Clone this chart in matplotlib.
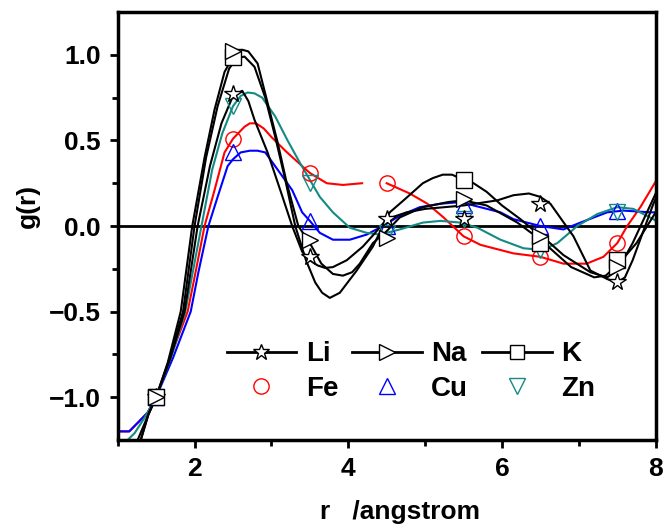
import numpy as np
import matplotlib
matplotlib.use("Agg")
import matplotlib.pyplot as plt
from matplotlib.lines import Line2D

# marker positions (r in angstrom), same for every series
r_mark = [1.5, 2.5, 3.5, 4.5, 5.5, 6.5, 7.5]

# ---- fitted curves (nan = gap in the line) ----
r_li = [1.3, 1.4, 1.5, 1.68, 1.87, 2.04, 2.2, 2.35, 2.5, 2.62, 2.7, 2.78, 2.95, 3.13,
        3.27, 3.4, 3.5, 3.6, 3.7, 3.8, 3.98, 4.19, 4.35, 4.5, 4.76, 5.0, 5.5, 5.94,
        6.15, 6.35, 6.5, 6.63, 6.93, 7.15, 7.37, 7.5, 7.6, 7.7, 7.97, 8.0]
g_li = [-1.25, -1.1, -1.0, -0.78, -0.5, 0.0, 0.35, 0.6, 0.76, 0.79, 0.73, 0.62, 0.43, 0.19,
        0.0, -0.15, -0.2, -0.23, -0.245, -0.24, -0.2, -0.12, -0.04, 0.04, 0.08, 0.1, 0.12, 0.15,
        0.18, 0.19, 0.17, 0.13, -0.06, -0.26, -0.31, -0.33, -0.3, -0.2, 0.13, 0.16]

r_na = [1.26, 1.4, 1.5, 1.65, 1.82, 1.97, 2.13, 2.26, 2.39, 2.5, 2.56, 2.62, 2.7, 2.82,
        2.95, 3.08, 3.2, 3.35, 3.5, 3.65, 3.8, 3.93, 4.05, 4.15, 4.32, 4.5, 4.67, 4.97,
        5.3, 5.5, 5.8, 6.2, 6.5, 6.9, 7.2, 7.35, 7.5, 7.75, 8.0]
g_na = [-1.25, -1.1, -1.0, -0.8, -0.5, 0.0, 0.4, 0.68, 0.9, 0.99, 1.02, 1.03, 1.02, 0.95,
        0.72, 0.49, 0.25, 0.0, -0.1, -0.22, -0.28, -0.29, -0.27, -0.22, -0.1, -0.03, 0.05, 0.11,
        0.14, 0.15, 0.12, 0.02, -0.08, -0.24, -0.3, -0.29, -0.23, -0.1, 0.08]

r_k = [1.3, 1.4, 1.5, 1.67, 1.85, 2.0, 2.15, 2.3, 2.45, 2.55, 2.65, 2.78, 2.92,
       3.05, 3.18, 3.31, 3.45, 3.57, 3.66, 3.76, 3.89, 4.11, 4.32, 4.54, 4.72, 4.97, 5.1,
       5.23, 5.35, 5.5, 5.63, 5.8, 6.0, 6.24, 6.4, 6.5, 6.8, 7.15, 7.37, 7.5, 7.7, 8.0]
g_k = [-1.25, -1.1, -1.0, -0.78, -0.5, 0.0, 0.4, 0.7, 0.92, 0.98, 0.99, 0.93, 0.75,
       0.52, 0.27, 0.0, -0.2, -0.33, -0.39, -0.42, -0.39, -0.26, -0.12, 0.08, 0.15, 0.25, 0.28,
       0.3, 0.3, 0.27, 0.25, 0.2, 0.12, 0.04, -0.02, -0.05, -0.17, -0.27, -0.3, -0.26, -0.1, 0.19]

r_fe = [1.0, 1.15, 1.26, 1.39, 1.5, 1.7, 1.91, 2.0, 2.13, 2.26, 2.39, 2.5, 2.65,
        2.72, 2.8, 2.9, 3.0, 3.18, 3.4, 3.5, 3.72, 3.93, 4.18, 4.3, 4.5, 4.8, 5.03, 5.24, 5.5,
        5.72, 6.15, 6.5, 6.8, 7.1, 7.32, 7.5, 7.63, 7.8, 8.0]
g_fe = [-1.2, -1.2, -1.15, -1.09, -1.0, -0.75, -0.5, -0.3, 0.0, 0.21, 0.43, 0.51, 0.58,
        0.6, 0.6, 0.57, 0.52, 0.44, 0.35, 0.31, 0.25, 0.24, 0.25, np.nan, 0.25, 0.19, 0.13, 0.05, -0.06,
        -0.11, -0.16, -0.18, -0.22, -0.22, -0.18, -0.1, 0.0, 0.11, 0.26]

r_cu = [1.0, 1.15, 1.26, 1.39, 1.5, 1.72, 1.95, 2.05, 2.18, 2.3, 2.43, 2.5, 2.6,
        2.72, 2.82, 2.92, 3.08, 3.27, 3.4, 3.5, 3.63, 3.8, 4.02, 4.24, 4.45, 4.67, 4.93,
        5.2, 5.46, 5.63, 5.98, 6.15, 6.5, 6.8, 7.02, 7.37, 7.58, 7.93, 8.0]
g_cu = [-1.2, -1.2, -1.15, -1.09, -1.0, -0.77, -0.5, -0.27, 0.0, 0.17, 0.35, 0.39, 0.43,
        0.44, 0.44, 0.43, 0.33, 0.21, 0.08, 0.03, -0.04, -0.08, -0.08, -0.05, 0.0, 0.06, 0.11,
        0.13, 0.14, 0.12, 0.08, 0.04, 0.0, -0.02, 0.02, 0.08, 0.09, 0.08, 0.08]

r_zn = [1.13, 1.22, 1.35, 1.5, 1.7, 1.88, 2.09, 2.23, 2.36, 2.5, 2.6, 2.69, 2.78, 2.88, 3.05,
        3.21, 3.37, 3.5, 3.63, 3.8, 4.02, 4.24, 4.41, 4.67, 4.97, 5.2, 5.46, 5.68,
        5.98, 6.28, 6.52, 6.72, 6.98, 7.24, 7.5, 7.71, 7.97, 8.0]
g_zn = [-1.25, -1.21, -1.12, -1.0, -0.76, -0.5, 0.0, 0.33, 0.54, 0.7, 0.76, 0.78, 0.775, 0.75, 0.64,
        0.5, 0.37, 0.27, 0.17, 0.08, -0.01, -0.04, -0.05, -0.02, 0.02, 0.03, 0.02, -0.01,
        -0.08, -0.13, -0.14, -0.1, 0.0, 0.07, 0.11, 0.1, 0.04, 0.03]

# ---- symbols (data points); nan = hidden behind other curves ----
m_li = [-1.0, 0.77, -0.18, 0.04, 0.04, 0.13, -0.33]
m_na = [-1.0, 1.02, -0.08, -0.07, 0.16, -0.06, -0.24]
m_k = [-1.0, 0.99, np.nan, np.nan, 0.27, -0.1, -0.2]
m_fe = [-1.0, 0.51, 0.31, 0.25, -0.06, -0.18, -0.1]
m_cu = [-1.0, 0.43, 0.03, 0.0, 0.12, 0.0, 0.09]
m_zn = [-1.0, 0.7, 0.25, -0.04, 0.04, -0.14, 0.08]

labels = ["Li", "Na", "K", "Fe", "Cu", "Zn"]

plt.rcParams["font.family"] = ["Liberation Sans", "DejaVu Sans"]
plt.rcParams["font.weight"] = "bold"

fig = plt.figure(figsize=(6.65, 5.25), dpi=100)
ax = fig.add_axes([0.177, 0.162, 0.809, 0.815])

series = [
    (r_fe, g_fe, m_fe, "red", "o", "none"),
    (r_cu, g_cu, m_cu, "blue", "^", "none"),
    (r_zn, g_zn, m_zn, "#138a84", "v", "none"),
    (r_li, g_li, m_li, "black", "*", "white"),
    (r_k, g_k, m_k, "black", "s", "white"),
    (r_na, g_na, m_na, "black", ">", "white"),
]

# lines first, symbols after
for r, g, m, c, mk, fc in series:
    ax.plot(r, g, color=c, lw=1.5, zorder=2)
for r, g, m, c, mk, fc in series:
    ms = 13 if mk == "*" else 11
    ax.plot(r_mark, m, ls="none", marker=mk, ms=ms, mfc=fc, mec=c, mew=1.0, zorder=3)

ax.axhline(0, color="black", lw=2, zorder=1)

ax.set_xlim(1, 8)
ax.set_ylim(-1.25, 1.25)
ax.set_xticks([2, 4, 6, 8])
ax.set_xticks([1, 3, 5, 7], minor=True)
ax.set_yticks([-1.0, -0.5, 0.0, 0.5, 1.0])
ax.set_yticks([-0.75, -0.25, 0.25, 0.75], minor=True)
ax.tick_params(which="major", direction="out", length=6, width=2, labelsize=19, pad=6)
ax.tick_params(which="minor", direction="out", length=4, width=2)
for s in ax.spines.values():
    s.set_linewidth(2.5)

ax.set_ylabel("g(r)", fontsize=19, fontweight="bold")
ax.yaxis.set_label_coords(-0.145, 0.547)
ax.set_xlabel("r   /angstrom", fontsize=19, fontweight="bold")
ax.xaxis.set_label_coords(0.524, -0.14)
ax.xaxis.label.set_va("top")

# legend: black ones with line, coloured ones symbol only
handles = [
    Line2D([], [], color="black", lw=2, marker="*", ms=12, mfc="white", mec="black", mew=1),
    Line2D([], [], ls="none", marker="o", ms=11, mfc="none", mec="red", mew=1),
    Line2D([], [], color="black", lw=2, marker=">", ms=11, mfc="white", mec="black", mew=1),
    Line2D([], [], ls="none", marker="^", ms=11, mfc="none", mec="blue", mew=1),
    Line2D([], [], color="black", lw=2, marker="s", ms=10, mfc="white", mec="black", mew=1),
    Line2D([], [], ls="none", marker="v", ms=11, mfc="none", mec="#138a84", mew=1),
]
leg_labels = [labels[0], labels[3], labels[1], labels[4], labels[2], labels[5]]
ax.legend(handles, leg_labels, ncol=3, frameon=False, loc="center",
          bbox_to_anchor=(0.545, 0.16), handlelength=2.5,
          handletextpad=0.35, columnspacing=0.5, labelspacing=0.3,
          prop={"weight": "bold", "size": 20})

fig.savefig("out.png", dpi=100)
